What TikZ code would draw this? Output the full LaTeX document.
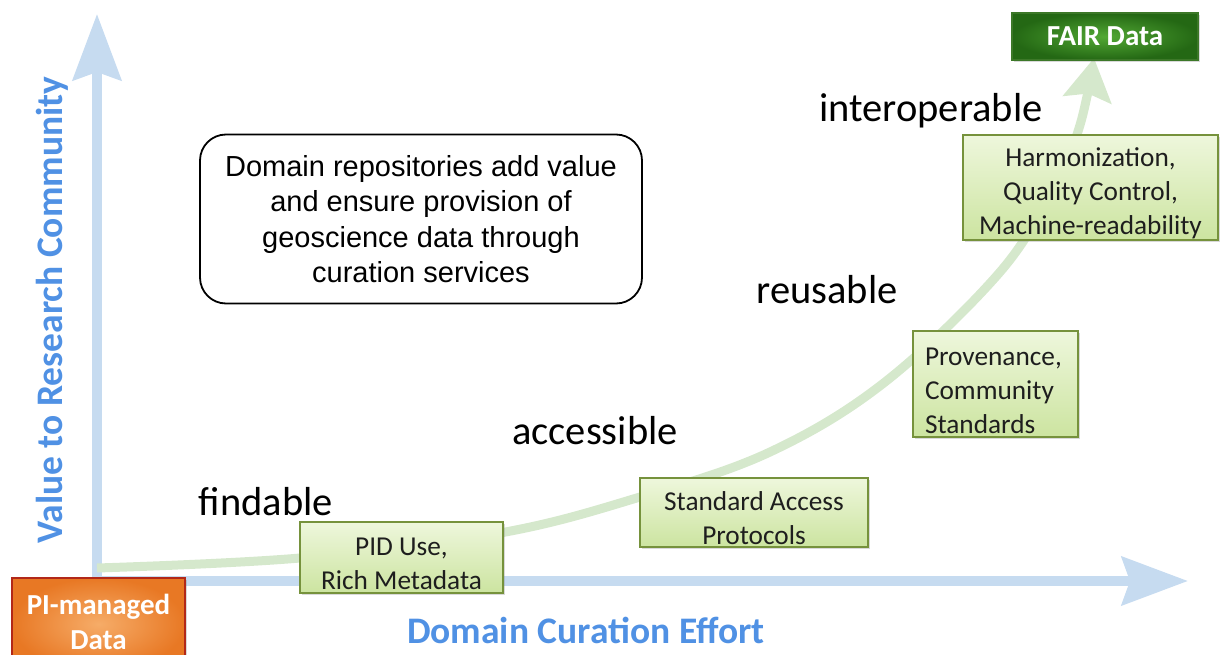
\documentclass[tikz,border=0pt]{standalone}
\usepackage{fontspec}
\setmainfont{Carlito}
\newfontfamily\arialf{Liberation Sans}
\usetikzlibrary{arrows.meta,shadows}
\definecolor{axisblue}{RGB}{198,219,240}
\definecolor{labblue}{RGB}{80,145,228}
\definecolor{curvegreen}{RGB}{213,232,204}
\definecolor{boxedge}{RGB}{118,146,60}
\definecolor{boxtop}{RGB}{238,247,220}
\definecolor{boxbot}{RGB}{204,228,160}
\definecolor{txtdark}{RGB}{30,30,30}
\definecolor{orin}{RGB}{246,172,104}
\definecolor{orout}{RGB}{232,120,36}
\definecolor{oredge}{RGB}{178,40,24}
\definecolor{grin}{RGB}{82,168,52}
\definecolor{grout}{RGB}{36,104,20}
\definecolor{gredge}{RGB}{60,120,40}
\newcommand{\upstrut}{\rule{0pt}{31pt}}
\tikzset{
  axisline/.style={draw=axisblue, line width=10pt, -{Stealth[length=66pt,width=48pt,inset=8pt]}},
  curveline/.style={draw=curvegreen, line width=9pt, -{Stealth[length=42pt,width=48pt,inset=6pt]}},
  gbox/.style={draw=boxedge, line width=2.2pt, top color=boxtop, bottom color=boxbot,
    text=txtdark, inner sep=0pt, align=center, font=\fontsize{27.3}{34}\selectfont,
    drop shadow={shadow xshift=2pt, shadow yshift=-2pt, opacity=0.3}},
  stage/.style={text=black, inner sep=0pt, anchor=base, font=\fontsize{40.5}{48}\selectfont},
  axislabel/.style={text=labblue, inner sep=0pt, anchor=base, font=\bfseries\fontsize{37.5}{44}\selectfont},
  endtext/.style={text=white, inner sep=0pt, align=center, font=\bfseries\fontsize{29}{35}\selectfont},
  endbox/.style={endtext, drop shadow={shadow xshift=2pt, shadow yshift=-2pt, opacity=0.3}}
}
\begin{document}
\begin{tikzpicture}[x=1pt,y=-1pt]
\useasboundingbox (0,0) rectangle (1220,655);
\clip (0,0) rectangle (1220,655);
% axes
\coordinate (origin) at (97,581);
\coordinate (yend) at (97,14);
\coordinate (xend) at (1188,581);
\draw[axisline] (97,586) -- (yend);
\draw[axisline] (92,581) -- (xend);
% curve
\coordinate (c0) at (97,568);
\coordinate (c1) at (300,558);
\coordinate (c2) at (500,533);
\coordinate (c3) at (640,497);
\coordinate (c4) at (770,452);
\coordinate (c5) at (885,382);
\coordinate (c6) at (1000,272);
\coordinate (c7) at (1055,185);
\coordinate (c8) at (1080,125);
\coordinate (c9) at (1094,58);
\draw[curveline] plot[smooth, tension=0.6] coordinates {(c0) (c1) (c2) (c3) (c4) (c5) (c6) (c7) (c8) (c9)};
% axis labels
\node[axislabel] (xlab) at (586,643) {Domain Curation Effort};
\node[axislabel, rotate=90] (ylab) at (62,310) {Value to Research Community};
% stage labels
\node[stage] (findable) at (266,515) {findable};
\node[stage] (accessible) at (595,444) {accessible};
\node[stage] (reusable) at (827,303) {reusable};
\node[stage] (interop) at (931,122) {interoperable};
% note
\node[draw=black, line width=1.8pt, rounded corners=26pt, minimum width=442pt, minimum height=169pt,
  inner sep=0pt, align=center, font=\arialf\fontsize{29}{35.5}\selectfont] (note) at (421,219)
  {Domain repositories add value\\and ensure provision of\\geoscience data through\\curation services};
% green boxes
\node[gbox, minimum width=203pt, minimum height=71pt] (pid) at (401.5,557.5) {\upstrut PID Use,\\Rich Metadata};
\node[gbox, minimum width=228pt, minimum height=69pt] (sap) at (754,512.5) {\upstrut Standard Access\\Protocols};
\node[gbox, minimum width=165pt, minimum height=106pt, align=left, text width=141pt] (prov) at (995.5,384) {\upstrut Provenance,\\Community\\Standards};
\node[gbox, minimum width=255pt, minimum height=105pt] (harm) at (1090.5,187.5) {\upstrut Harmonization,\\Quality Control,\\Machine-readability};
% end boxes
\node[endbox, draw=gredge, line width=1.2pt, inner color=grin, outer color=grout,
  minimum width=186pt, minimum height=47pt] (fair) at (1105,36.5) {FAIR Data};
\node[endbox, draw=oredge, line width=2.8pt, inner color=orin, outer color=orout,
  minimum width=173pt, minimum height=92pt] (pi) at (98.5,624) {};
\node[endtext, anchor=north] (pitext) at (98.5,594) {PI-managed\\Data};
\end{tikzpicture}
\end{document}
